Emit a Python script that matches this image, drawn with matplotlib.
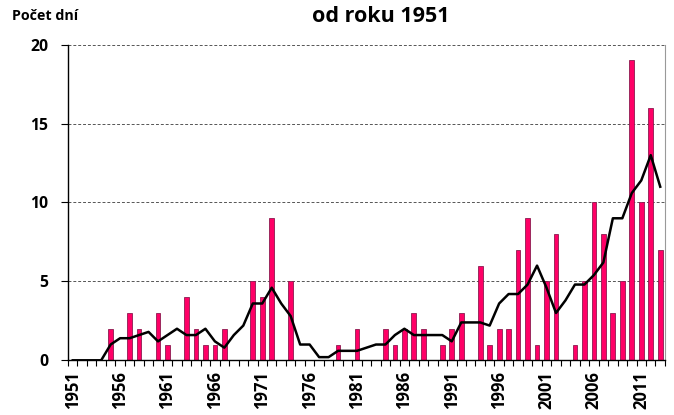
import matplotlib
matplotlib.use("Agg")
import matplotlib.pyplot as plt
import numpy as np

plt.rcParams['font.family'] = ['Open Sans', 'DejaVu Sans']

# Data: number of days per year and its 5-year moving average
years = list(range(1951, 2014))
days = [0, 0, 0, 0, 2, 0, 3, 2, 0, 3,
        1, 0, 4, 2, 1, 1, 2, 0, 0, 5,
        4, 9, 0, 5, 0, 0, 0, 0, 1, 0,
        2, 0, 0, 2, 1, 2, 3, 2, 0, 1,
        2, 3, 0, 6, 1, 2, 2, 7, 9, 1,
        5, 8, 0, 1, 5, 10, 8, 3, 5, 19,
        10, 16, 7]
avg = [0, 0, 0, 0, 1.0, 1.4, 1.4, 1.6, 1.8, 1.2,
       1.6, 2.0, 1.6, 1.6, 2.0, 1.2, 0.8, 1.6, 2.2, 3.6,
       3.6, 4.6, 3.6, 2.8, 1.0, 1.0, 0.2, 0.2, 0.6, 0.6,
       0.6, 0.8, 1.0, 1.0, 1.6, 2.0, 1.6, 1.6, 1.6, 1.6,
       1.2, 2.4, 2.4, 2.4, 2.2, 3.6, 4.2, 4.2, 4.8, 6.0,
       4.6, 3.0, 3.8, 4.8, 4.8, 5.4, 6.2, 9.0, 9.0, 10.6,
       11.4, 13.0, 11.0]
yticks = [0, 5, 10, 15, 20]

fig = plt.figure(figsize=(6.74, 4.15), dpi=100)
ax = fig.add_axes([0.1009, 0.1318, 0.8857, 0.7605])

x = np.arange(len(years))
ax.bar(x, days, width=0.5, color='#ff0066', edgecolor='#8c1a4f', linewidth=0.6, zorder=2)
ax.plot(x, avg, color='black', linewidth=1.8, zorder=3)

ax.set_xlim(-0.5, len(years) - 0.5)
ax.set_ylim(0, 20)

ax.set_yticks(yticks)
ax.set_yticklabels([str(v) for v in yticks], fontsize=11.3, fontweight='bold')
ax.tick_params(axis='y', length=5, width=0.8, direction='out', pad=9)
ax.yaxis.grid(True, linestyle=(0, (3, 2)), color='#555555', linewidth=0.7, zorder=0)

lab_idx = [i for i, y in enumerate(years) if (y - 1951) % 5 == 0]
ax.set_xticks(lab_idx)
ax.set_xticklabels([str(years[i]) for i in lab_idx], rotation=90,
                   fontsize=12, fontweight='bold')
ax.set_xticks(np.arange(-0.5, len(years)), minor=True)
ax.tick_params(axis='x', which='major', length=0, pad=7.5)
ax.tick_params(axis='x', which='minor', length=4, width=0.8, direction='out')

ax.spines['top'].set_visible(False)
ax.spines['right'].set_color('#999999')
ax.spines['right'].set_linewidth(0.8)
ax.spines['left'].set_linewidth(1.0)
ax.spines['bottom'].set_linewidth(1.0)

fig.text(0.565, 0.96, 'od roku 1951', ha='center', va='center',
         fontsize=15.5, fontweight='bold')
fig.text(0.018, 0.962, 'Počet dní', ha='left', va='center',
         fontsize=10.3, fontweight='bold')

fig.savefig('out.png', dpi=100)
